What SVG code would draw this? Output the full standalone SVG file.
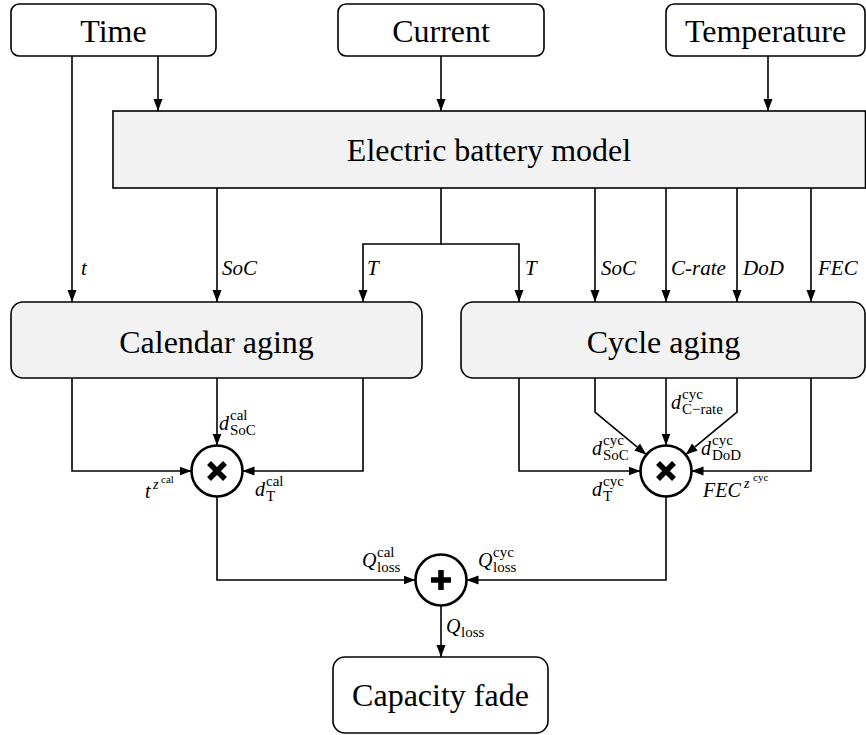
<svg xmlns="http://www.w3.org/2000/svg" width="866" height="735" viewBox="0 0 866 735" font-family="'Liberation Serif', 'Times New Roman', serif">
  <style>
    .box { fill: #ffffff; stroke: #000; stroke-width: 1.6; }
    .block { fill: #f2f2f2; stroke: #000; stroke-width: 1.6; }
    .op { fill: #ffffff; stroke: #000; stroke-width: 2.6; }
    .sym { stroke: #000; stroke-width: 5.5; fill: none; }
    .title { font-size: 32px; text-anchor: middle; }
    .lbl { font-size: 21px; font-style: italic; }
    .mv { font-size: 20px; font-style: italic; }
    .ms { font-size: 15px; }
    .mss { font-size: 11px; }
    .msi { font-size: 14px; font-style: italic; }
    #connectors path { fill: none; stroke: #000; stroke-width: 1.6; marker-end: url(#arrow); }
  </style>
  <defs>
    <marker id="arrow" markerUnits="userSpaceOnUse" markerWidth="12" markerHeight="12" viewBox="0 0 12 12" refX="12" refY="6" orient="auto">
      <path d="M0,1.5 L12,6 L0,10.5 Z" fill="#000"/>
    </marker>
  </defs>

  <rect width="866" height="735" fill="#ffffff"/>

  <!-- input nodes -->
  <g id="time">
    <rect class="box" x="11" y="4" width="205" height="52" rx="8"/>
    <text class="title" x="113.5" y="42">Time</text>
  </g>
  <g id="current">
    <rect class="box" x="338" y="4" width="206" height="52" rx="8"/>
    <text class="title" x="441" y="42">Current</text>
  </g>
  <g id="temperature">
    <rect class="box" x="666" y="4" width="199" height="52" rx="8"/>
    <text class="title" x="765.5" y="42">Temperature</text>
  </g>

  <!-- electric model -->
  <g id="electric-model">
    <rect class="block" x="113" y="111" width="752.5" height="77"/>
    <text class="title" x="489" y="161">Electric battery model</text>
  </g>

  <!-- aging models -->
  <g id="calendar-aging">
    <rect class="block" x="11" y="302" width="411" height="76" rx="12"/>
    <text class="title" x="216.5" y="353">Calendar aging</text>
  </g>
  <g id="cycle-aging">
    <rect class="block" x="461" y="302" width="404" height="76" rx="12"/>
    <text class="title" x="663.5" y="353">Cycle aging</text>
  </g>

  <!-- multiplication and summation nodes -->
  <g id="mul-cal">
    <circle class="op" cx="217" cy="471" r="25.5"/>
    <path class="sym" d="M209,463 L225,479 M225,463 L209,479"/>
  </g>
  <g id="mul-cyc">
    <circle class="op" cx="666" cy="471" r="25.5"/>
    <path class="sym" d="M658,463 L674,479 M674,463 L658,479"/>
  </g>
  <g id="sum">
    <circle class="op" cx="441" cy="580" r="25.5"/>
    <path class="sym" d="M431,580 L451,580 M441,570 L441,590"/>
  </g>

  <!-- output node -->
  <g id="capacity-fade">
    <rect class="box" x="333" y="657" width="215" height="76" rx="12"/>
    <text class="title" x="440.5" y="706">Capacity fade</text>
  </g>

  <!-- connectors -->
  <g id="connectors">
    <path d="M158,56 V111"/>
    <path d="M441,56 V111"/>
    <path d="M768,56 V111"/>
    <path d="M72,56 V302"/>
    <path d="M217,188 V302"/>
    <path d="M441,188 V244 H363 V302"/>
    <path d="M441,244 H519 V302"/>
    <path d="M595,188 V302"/>
    <path d="M666,188 V302"/>
    <path d="M737,188 V302"/>
    <path d="M811,188 V302"/>
    <path d="M72,378 V471 H191.5"/>
    <path d="M217,378 V445.5"/>
    <path d="M363,378 V471 H242.5"/>
    <path d="M519,378 V471 H640.5"/>
    <path d="M595,378 V412 L646.4,454.7"/>
    <path d="M666,378 V445.5"/>
    <path d="M737,378 V412 L685.6,454.7"/>
    <path d="M811,378 V471 H691.5"/>
    <path d="M217,497 V580 H415.5"/>
    <path d="M666,497 V580 H466.5"/>
    <path d="M441,606 V657"/>
  </g>

  <!-- signal labels -->
  <g id="labels">
    <text class="lbl" x="81" y="275">t</text>
    <text class="lbl" x="222" y="275">SoC</text>
    <text class="lbl" x="367" y="275">T</text>
    <text class="lbl" x="525" y="275">T</text>
    <text class="lbl" x="601" y="275">SoC</text>
    <text class="lbl" x="671" y="275">C-rate</text>
    <text class="lbl" x="743" y="275">DoD</text>
    <text class="lbl" x="818" y="275">FEC</text>

    <!-- calendar factors -->
    <text class="mv" x="219" y="430">d</text>
    <text class="ms" x="230" y="420">cal</text>
    <text class="ms" x="230" y="435">SoC</text>

    <text class="mv" x="145" y="498">t</text>
    <text class="msi" x="153" y="489">z</text>
    <text class="mss" x="161" y="483">cal</text>

    <text class="mv" x="255" y="496">d</text>
    <text class="ms" x="266" y="486">cal</text>
    <text class="ms" x="266" y="501">T</text>

    <!-- cycle factors -->
    <text class="mv" x="671" y="409">d</text>
    <text class="ms" x="682" y="399">cyc</text>
    <text class="ms" x="682" y="414">C−rate</text>

    <text class="mv" x="592" y="455">d</text>
    <text class="ms" x="603" y="445">cyc</text>
    <text class="ms" x="603" y="460">SoC</text>

    <text class="mv" x="701" y="455">d</text>
    <text class="ms" x="712" y="445">cyc</text>
    <text class="ms" x="712" y="460">DoD</text>

    <text class="mv" x="592" y="496">d</text>
    <text class="ms" x="603" y="486">cyc</text>
    <text class="ms" x="603" y="501">T</text>

    <text class="mv" x="703" y="497">FEC</text>
    <text class="msi" x="744" y="488">z</text>
    <text class="mss" x="753" y="481">cyc</text>

    <!-- capacity loss terms -->
    <text class="mv" x="362" y="567">Q</text>
    <text class="ms" x="377" y="557">cal</text>
    <text class="ms" x="377" y="572">loss</text>

    <text class="mv" x="478" y="567">Q</text>
    <text class="ms" x="493" y="557">cyc</text>
    <text class="ms" x="493" y="572">loss</text>

    <text class="mv" x="446" y="633">Q</text>
    <text class="ms" x="461" y="637">loss</text>
  </g>
</svg>
